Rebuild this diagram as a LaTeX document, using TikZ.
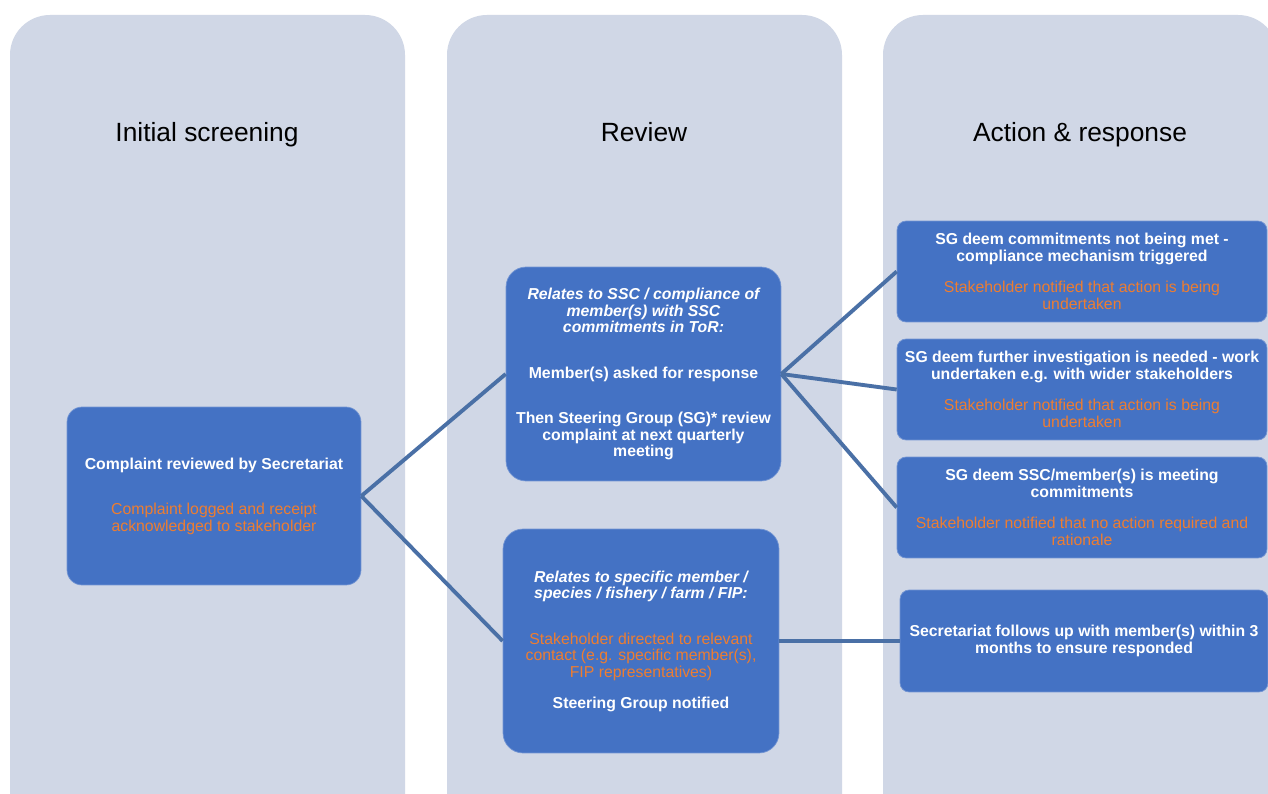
\documentclass[tikz,border=0pt]{standalone}
\usepackage{fontspec}
\setmainfont{Liberation Sans}
\definecolor{panelgrey}{HTML}{D0D7E6}
\definecolor{boxblue}{HTML}{4472C4}
\definecolor{noteorange}{HTML}{ED7D31}
\definecolor{linkblue}{HTML}{4A70A6}
\newcommand{\orangeline}[1]{{\color{noteorange}\mdseries #1}}
\newcommand{\slantline}[1]{{\itshape #1}}

\begin{document}
\begin{tikzpicture}[x=0.02cm, y=-0.02cm,
        panel/.style={fill=panelgrey, rounded corners=0.8cm},
        heading/.style={font=\fontsize{15}{18}\selectfont, anchor=base},
        stage/.style={fill=boxblue, draw=boxblue!75!white, line width=0.4pt,
            rounded corners=0.3cm, text=white, align=center, inner sep=2pt,
            font=\fontsize{9}{9.4}\selectfont\bfseries},
        outcome/.style={stage, rounded corners=0.18cm,
            minimum width=7.4cm, minimum height=2.02cm},
        link/.style={draw=linkblue, line width=2.2pt}]
    \useasboundingbox (0, 0) rectangle (1268, 794);
    \clip (0, 0) rectangle (1268, 794);
    \fill[white] (0, 0) rectangle (1268, 794);

    % columns
    \fill[panel] (10, 860) rectangle (405, 15);
    \fill[panel] (447, 860) rectangle (842, 15);
    \fill[panel] (883, 860) rectangle (1278, 15);

    \node[heading] (screening) at (207, 141.5) {Initial screening};
    \node[heading] (review) at (644, 141.5) {Review};
    \node[heading] (action) at (1080, 141.5) {Action \& response};

    % initial screening
    \node[stage, minimum width=5.88cm, minimum height=3.56cm] (secretariat) at (214, 496)
        {Complaint reviewed by Secretariat\\[16.5pt]
        \orangeline{Complaint logged and receipt}\\
        \orangeline{acknowledged to stakeholder}};

    % review
    \node[stage, rounded corners=0.4cm, minimum width=5.5cm, minimum height=4.28cm] (sscreview) at (643.5, 374)
        {\slantline{Relates to SSC / compliance of}\\
        \slantline{member(s) with SSC}\\
        \slantline{commitments in ToR:}\\[16.5pt]
        Member(s) asked for response\\[16.5pt]
        Then Steering Group (SG)* review\\complaint at next quarterly\\meeting};
    \node[stage, rounded corners=0.4cm, minimum width=5.52cm, minimum height=4.48cm] (memberreview) at (641, 641)
        {\slantline{Relates to specific member /}\\
        \slantline{species / fishery / farm / FIP:}\\[16.5pt]
        \orangeline{Stakeholder directed to relevant}\\
        \orangeline{contact (e.g. specific member(s),}\\
        \orangeline{FIP representatives)}\\[8.2pt]
        Steering Group notified};

    % action & response
    \node[outcome] (notmet) at (1082, 271.5)
        {SG deem commitments not being met -\\compliance mechanism triggered\\[8.5pt]
        \orangeline{Stakeholder notified that action is being}\\
        \orangeline{undertaken}};
    \node[outcome] (investigate) at (1082, 389.5)
        {SG deem further investigation is needed - work\\undertaken e.g. with wider stakeholders\\[8.5pt]
        \orangeline{Stakeholder notified that action is being}\\
        \orangeline{undertaken}};
    \node[outcome] (meeting) at (1082, 507.5)
        {SG deem SSC/member(s) is meeting\\commitments\\[8.5pt]
        \orangeline{Stakeholder notified that no action required and}\\
        \orangeline{rationale}};
    \node[outcome, minimum width=7.36cm, minimum height=2.04cm] (followup) at (1084, 641)
        {Secretariat follows up with member(s) within 3\\months to ensure responded};

    \draw[link] (secretariat.east) -- (sscreview.west);
    \draw[link] (secretariat.east) -- (memberreview.west);
    \draw[link] (sscreview.east) -- (notmet.west);
    \draw[link] (sscreview.east) -- (investigate.west);
    \draw[link] (sscreview.east) -- (meeting.west);
    \draw[link] (memberreview.east) -- (followup.west);
\end{tikzpicture}
\end{document}
